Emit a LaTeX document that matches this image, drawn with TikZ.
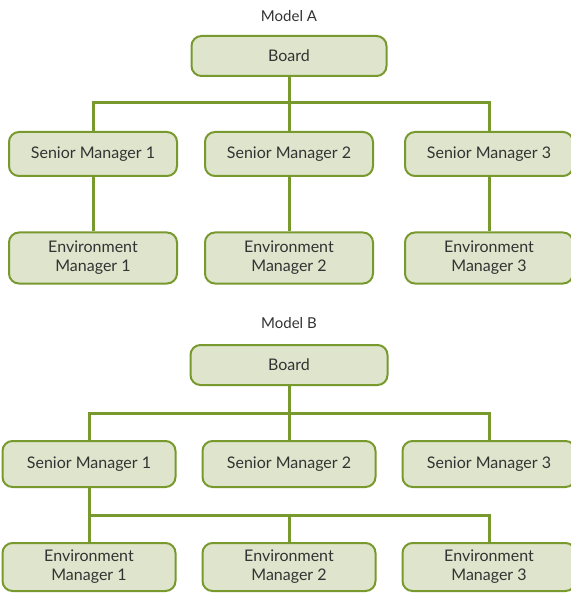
\documentclass[tikz,border=0pt]{standalone}
\usepackage{fontspec}
\setmainfont{Lato}
\definecolor{boxfill}{HTML}{DFE5CC}
\definecolor{boxline}{HTML}{78992E}
\definecolor{txt}{HTML}{333333}
\begin{document}
\begin{tikzpicture}[x=1pt,y=-1pt,
  orgbox/.style={draw=boxline, fill=boxfill, line width=2pt, rounded corners=10pt,
    minimum width=#1, minimum height=44pt, inner sep=0pt, align=center,
    text=txt, font=\fontsize{16}{19}\selectfont},
  orgbox/.default=168pt,
  link/.style={draw=boxline, line width=3pt},
  caption/.style={text=txt, font=\fontsize{15}{18}\selectfont}]
\useasboundingbox (0,0) rectangle (570,593);

% ---------- Model A ----------
\node[caption] (tA) at (289,16) {Model A};
\node[orgbox=195pt, minimum height=40pt] (bA) at (289,56) {Board};
\node[orgbox] (sA1) at (93,154) {Senior Manager 1};
\node[orgbox] (sA2) at (289,154) {Senior Manager 2};
\node[orgbox] (sA3) at (489,154) {Senior Manager 3};
\node[orgbox, minimum height=51pt] (eA1) at (93,258) {Environment\\Manager 1};
\node[orgbox, minimum height=51pt] (eA2) at (289,258) {Environment\\Manager 2};
\node[orgbox, minimum height=51pt] (eA3) at (489,258) {Environment\\Manager 3};

\coordinate (jA) at (289,103);
\draw[link] (bA.south) -- (jA);
\draw[link] (sA1.north) |- (jA) -| (sA3.north);
\draw[link] (jA) -- (sA2.north);
\draw[link] (sA1) -- (eA1);
\draw[link] (sA2) -- (eA2);
\draw[link] (sA3) -- (eA3);

% ---------- Model B ----------
\node[caption] (tB) at (289,323) {Model B};
\node[orgbox=197pt, minimum height=40pt] (bB) at (289,365) {Board};
\node[orgbox=173pt, minimum height=46pt] (sB1) at (89,464) {Senior Manager 1};
\node[orgbox=173pt, minimum height=46pt] (sB2) at (289,464) {Senior Manager 2};
\node[orgbox=173pt, minimum height=46pt] (sB3) at (489,464) {Senior Manager 3};
\node[orgbox=173pt, minimum height=48pt] (eB1) at (89,567) {Environment\\Manager 1};
\node[orgbox=173pt, minimum height=48pt] (eB2) at (289,567) {Environment\\Manager 2};
\node[orgbox=173pt, minimum height=48pt] (eB3) at (489,567) {Environment\\Manager 3};

\coordinate (jB) at (289,413);
\coordinate (kB) at (289,515);
\draw[link] (bB.south) -- (jB);
\draw[link] (sB1.north) |- (jB) -| (sB3.north);
\draw[link] (jB) -- (sB2.north);
\draw[link] (sB1.south) -- (eB1.north);
\draw[link] (eB1.north |- kB) -| (eB3.north);
\draw[link] (kB) -- (eB2.north);
\end{tikzpicture}
\end{document}
